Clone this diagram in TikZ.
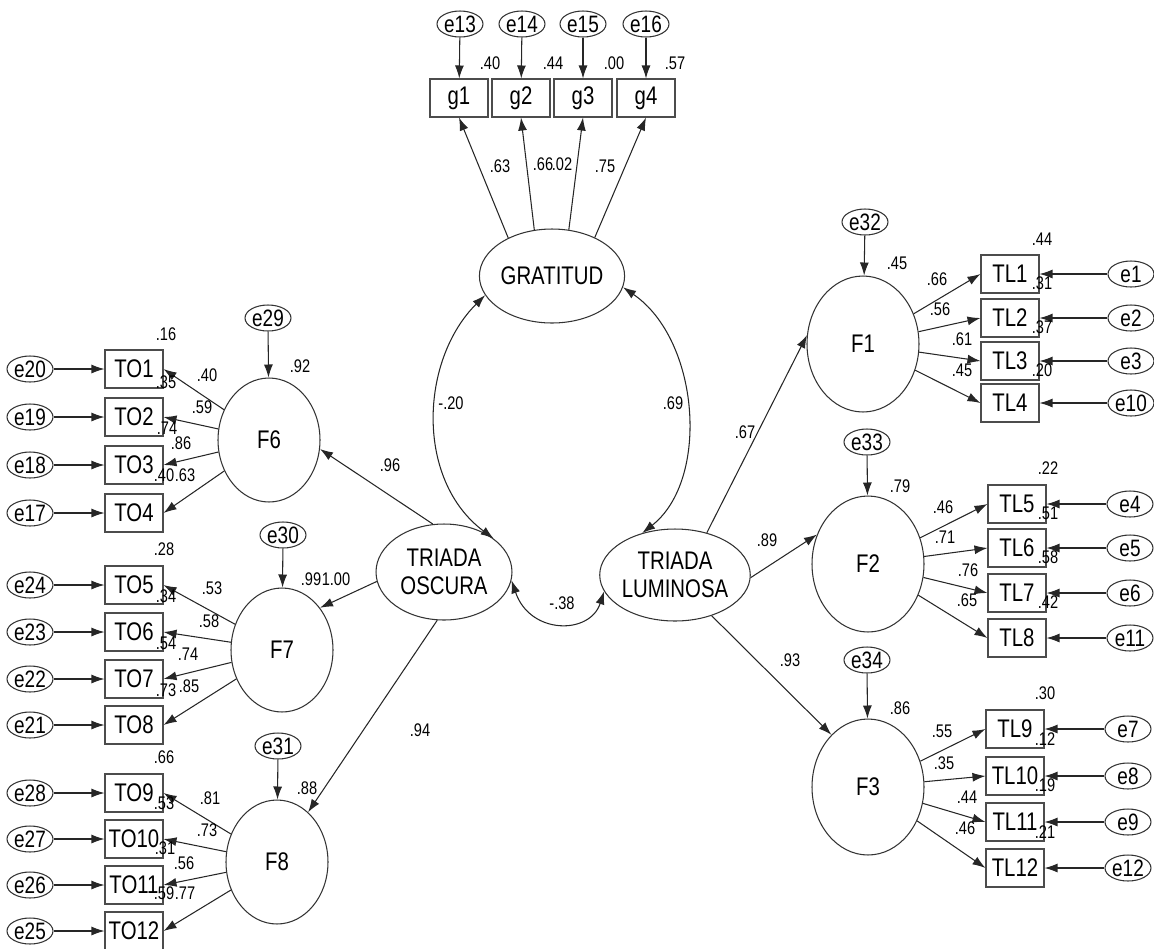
\documentclass[tikz,border=0pt]{standalone}
\usepackage{fontspec}
\newfontfamily\narrowfont[FakeStretch=0.8]{Liberation Sans}
\usepackage{tikz}
\usetikzlibrary{shapes, arrows.meta}

\newcommand{\semnode}{\narrowfont\fontsize{14.5}{16}\selectfont}
\newcommand{\semerr}{\narrowfont\fontsize{13.5}{15}\selectfont}
\newcommand{\semval}{\narrowfont\fontsize{10.4}{12}\selectfont}

\begin{document}
\begin{tikzpicture}[x=0.02cm, y=-0.02cm, >={Latex[length=2.6mm, width=1.8mm]}, line width=0.6pt]
\tikzstyle{sem_box}=[rectangle, draw=black!70, minimum width=1.16cm, minimum height=0.76cm,
	inner sep=0pt, font=\semnode]
\tikzstyle{sem_err}=[ellipse, draw=black!80, minimum width=0.92cm, minimum height=0.52cm,
	inner sep=0pt, font=\semerr]
\tikzstyle{sem_fac}=[ellipse, draw=black!80, minimum width=2.04cm, minimum height=2.48cm,
	inner sep=0pt, font=\semnode]
\tikzstyle{sem_fac_big}=[sem_fac, minimum width=2.24cm, minimum height=2.72cm]
\tikzstyle{sem_lat}=[ellipse, draw=black!80, minimum width=2.72cm, minimum height=1.88cm,
	inner sep=0pt, align=center, font=\semnode]
\tikzstyle{sem_val}=[inner sep=0pt, font=\semval]
\tikzstyle{sem_arr}=[->, draw=black!85]

\useasboundingbox (0,0) rectangle (1154,948);

% latent variables
\node at (552,276) [sem_lat] (grat) {GRATITUD};
\node at (444,572) [sem_lat, minimum height=1.92cm] (tos) {TRIADA\\OSCURA};
\node at (675,575) [sem_lat, minimum height=1.84cm] (tlu) {TRIADA\\LUMINOSA};

% gratitud indicators
\node at (459,98) [sem_box] (g1) {g1};
\node at (521,98) [sem_box] (g2) {g2};
\node at (583,98) [sem_box] (g3) {g3};
\node at (646,98) [sem_box] (g4) {g4};
\node at (460,24) [sem_err] (e13) {e13};
\node at (522,24) [sem_err] (e14) {e14};
\node at (583,24) [sem_err] (e15) {e15};
\node at (646,24) [sem_err] (e16) {e16};

% factors
\node at (269,440) [sem_fac] (F6) {F6};
\node at (282,650) [sem_fac] (F7) {F7};
\node at (277,862) [sem_fac] (F8) {F8};
\node at (863,344) [sem_fac_big] (F1) {F1};
\node at (868,564) [sem_fac_big] (F2) {F2};
\node at (868,787) [sem_fac_big] (F3) {F3};
\node at (268,318) [sem_err] (e29) {e29};
\node at (283,535) [sem_err] (e30) {e30};
\node at (278,746) [sem_err] (e31) {e31};
\node at (865,222) [sem_err] (e32) {e32};
\node at (867,442) [sem_err] (e33) {e33};
\node at (867,660) [sem_err] (e34) {e34};

% triada oscura items
\node at (134,369) [sem_box] (TO1) {TO1};
\node at (134,417) [sem_box] (TO2) {TO2};
\node at (134,465) [sem_box] (TO3) {TO3};
\node at (134,513) [sem_box] (TO4) {TO4};
\node at (134,585) [sem_box] (TO5) {TO5};
\node at (134,632) [sem_box] (TO6) {TO6};
\node at (134,679) [sem_box] (TO7) {TO7};
\node at (134,725) [sem_box] (TO8) {TO8};
\node at (134,793) [sem_box] (TO9) {TO9};
\node at (134,839) [sem_box] (TO10) {TO10};
\node at (134,885) [sem_box] (TO11) {TO11};
\node at (134,931) [sem_box] (TO12) {TO12};
\node at (30,369) [sem_err] (e20) {e20};
\node at (30,417) [sem_err] (e19) {e19};
\node at (30,465) [sem_err] (e18) {e18};
\node at (30,513) [sem_err] (e17) {e17};
\node at (30,585) [sem_err] (e24) {e24};
\node at (30,632) [sem_err] (e23) {e23};
\node at (30,679) [sem_err] (e22) {e22};
\node at (30,725) [sem_err] (e21) {e21};
\node at (30,793) [sem_err] (e28) {e28};
\node at (30,839) [sem_err] (e27) {e27};
\node at (30,885) [sem_err] (e26) {e26};
\node at (30,931) [sem_err] (e25) {e25};

% triada luminosa items
\node at (1010,274) [sem_box] (TL1) {TL1};
\node at (1010,318) [sem_box] (TL2) {TL2};
\node at (1010,361) [sem_box] (TL3) {TL3};
\node at (1010,403) [sem_box] (TL4) {TL4};
\node at (1017,504) [sem_box] (TL5) {TL5};
\node at (1017,548) [sem_box] (TL6) {TL6};
\node at (1017,593) [sem_box] (TL7) {TL7};
\node at (1017,638) [sem_box] (TL8) {TL8};
\node at (1015,729) [sem_box] (TL9) {TL9};
\node at (1015,776) [sem_box] (TL10) {TL10};
\node at (1015,822) [sem_box] (TL11) {TL11};
\node at (1015,868) [sem_box] (TL12) {TL12};
\node at (1131,274) [sem_err] (e1) {e1};
\node at (1131,318) [sem_err] (e2) {e2};
\node at (1131,361) [sem_err] (e3) {e3};
\node at (1131,403) [sem_err] (e10) {e10};
\node at (1130,504) [sem_err] (e4) {e4};
\node at (1130,548) [sem_err] (e5) {e5};
\node at (1130,593) [sem_err] (e6) {e6};
\node at (1130,638) [sem_err] (e11) {e11};
\node at (1128,729) [sem_err] (e7) {e7};
\node at (1128,776) [sem_err] (e8) {e8};
\node at (1128,822) [sem_err] (e9) {e9};
\node at (1128,868) [sem_err] (e12) {e12};

% structural paths
\draw[sem_arr] (tos.103) -- (F6.350);
\draw[sem_arr] (tos.188) -- (F7.48);
\draw[sem_arr] (tos.262) -- (F8.58);
\draw[sem_arr] (tlu.53) -- (F1.171);
\draw[sem_arr] (tlu.358) -- (F2.150);
\draw[sem_arr] (tlu.312) -- (F3.125);

% covariances
\draw[sem_arr, <->] (grat.196) .. controls (420,360) and (415,480) .. (tos.34);
\draw[sem_arr, <->] (grat.351) .. controls (700,340) and (710,480) .. (tlu.128);
\draw[sem_arr, <->] (tos.353) .. controls (530,635) and (590,635) .. (tlu.193);

% loadings
\draw[sem_arr] (grat.139) -- (g1.south);
\draw[sem_arr] (grat.111) -- (g2.south);
\draw[sem_arr] (grat.70) -- (g3.south);
\draw[sem_arr] (grat.42) -- (g4.south);
\draw[sem_arr] (F6) -- (TO1.east);
\draw[sem_arr] (F6) -- (TO2.east);
\draw[sem_arr] (F6) -- (TO3.east);
\draw[sem_arr] (F6) -- (TO4.east);
\draw[sem_arr] (F7) -- (TO5.east);
\draw[sem_arr] (F7) -- (TO6.east);
\draw[sem_arr] (F7) -- (TO7.east);
\draw[sem_arr] (F7) -- (TO8.east);
\draw[sem_arr] (F8) -- (TO9.east);
\draw[sem_arr] (F8) -- (TO10.east);
\draw[sem_arr] (F8) -- (TO11.east);
\draw[sem_arr] (F8) -- (TO12.east);
\draw[sem_arr] (F1) -- (TL1.west);
\draw[sem_arr] (F1) -- (TL2.west);
\draw[sem_arr] (F1) -- (TL3.west);
\draw[sem_arr] (F1) -- (TL4.west);
\draw[sem_arr] (F2) -- (TL5.west);
\draw[sem_arr] (F2) -- (TL6.west);
\draw[sem_arr] (F2) -- (TL7.west);
\draw[sem_arr] (F2) -- (TL8.west);
\draw[sem_arr] (F3) -- (TL9.west);
\draw[sem_arr] (F3) -- (TL10.west);
\draw[sem_arr] (F3) -- (TL11.west);
\draw[sem_arr] (F3) -- (TL12.west);

% errors
\draw[sem_arr] (e13) -- (g1);
\draw[sem_arr] (e14) -- (g2);
\draw[sem_arr] (e15) -- (g3);
\draw[sem_arr] (e16) -- (g4);
\draw[sem_arr] (e29) -- (F6);
\draw[sem_arr] (e30) -- (F7);
\draw[sem_arr] (e31) -- (F8);
\draw[sem_arr] (e32) -- (F1);
\draw[sem_arr] (e33) -- (F2);
\draw[sem_arr] (e34) -- (F3);
\draw[sem_arr] (e20) -- (TO1);
\draw[sem_arr] (e19) -- (TO2);
\draw[sem_arr] (e18) -- (TO3);
\draw[sem_arr] (e17) -- (TO4);
\draw[sem_arr] (e24) -- (TO5);
\draw[sem_arr] (e23) -- (TO6);
\draw[sem_arr] (e22) -- (TO7);
\draw[sem_arr] (e21) -- (TO8);
\draw[sem_arr] (e28) -- (TO9);
\draw[sem_arr] (e27) -- (TO10);
\draw[sem_arr] (e26) -- (TO11);
\draw[sem_arr] (e25) -- (TO12);
\draw[sem_arr] (e1) -- (TL1);
\draw[sem_arr] (e2) -- (TL2);
\draw[sem_arr] (e3) -- (TL3);
\draw[sem_arr] (e10) -- (TL4);
\draw[sem_arr] (e4) -- (TL5);
\draw[sem_arr] (e5) -- (TL6);
\draw[sem_arr] (e6) -- (TL7);
\draw[sem_arr] (e11) -- (TL8);
\draw[sem_arr] (e7) -- (TL9);
\draw[sem_arr] (e8) -- (TL10);
\draw[sem_arr] (e9) -- (TL11);
\draw[sem_arr] (e12) -- (TL12);

% estimates: gratitud
\node at (490,63) [sem_val] (r2g1) {.40};
\node at (553,63) [sem_val] (r2g2) {.44};
\node at (614,63) [sem_val] (r2g3) {.00};
\node at (675,63) [sem_val] (r2g4) {.57};
\node at (500,166) [sem_val] (lg1) {.63};
\node at (543,164) [sem_val] (lg2) {.66};
\node at (562,164) [sem_val] (lg3) {.02};
\node at (605,166) [sem_val] (lg4) {.75};

% estimates: structural and covariances
\node at (390,465) [sem_val] (lF6) {.96};
\node at (336,579) [sem_val] (lF7) {1.00};
\node at (420,730) [sem_val] (lF8) {.94};
\node at (745,432) [sem_val] (lF1) {.67};
\node at (767,540) [sem_val] (lF2) {.89};
\node at (790,660) [sem_val] (lF3) {.93};
\node at (451,403) [sem_val] (c_go) {-.20};
\node at (673,403) [sem_val] (c_gl) {.69};
\node at (562,603) [sem_val] (c_ol) {-.38};
\node at (300,366) [sem_val] (r2F6) {.92};
\node at (311,579) [sem_val] (r2F7) {.99};
\node at (307,788) [sem_val] (r2F8) {.88};
\node at (897,263) [sem_val] (r2F1) {.45};
\node at (900,486) [sem_val] (r2F2) {.79};
\node at (900,708) [sem_val] (r2F3) {.86};

% estimates: triada oscura
\node at (166,334) [sem_val] (r2TO1) {.16};
\node at (166,382) [sem_val] (r2TO2) {.35};
\node at (167,428) [sem_val] (r2TO3) {.74};
\node at (164,475) [sem_val] (r2TO4) {.40};
\node at (207,375) [sem_val] (lTO1) {.40};
\node at (202,407) [sem_val] (lTO2) {.59};
\node at (181,443) [sem_val] (lTO3) {.86};
\node at (185,475) [sem_val] (lTO4) {.63};
\node at (164,549) [sem_val] (r2TO5) {.28};
\node at (166,596) [sem_val] (r2TO6) {.34};
\node at (166,643) [sem_val] (r2TO7) {.54};
\node at (166,690) [sem_val] (r2TO8) {.73};
\node at (212,588) [sem_val] (lTO5) {.53};
\node at (209,621) [sem_val] (lTO6) {.58};
\node at (188,654) [sem_val] (lTO7) {.74};
\node at (189,686) [sem_val] (lTO8) {.85};
\node at (164,757) [sem_val] (r2TO9) {.66};
\node at (164,803) [sem_val] (r2TO10) {.53};
\node at (165,848) [sem_val] (r2TO11) {.31};
\node at (164,893) [sem_val] (r2TO12) {.59};
\node at (210,798) [sem_val] (lTO9) {.81};
\node at (207,830) [sem_val] (lTO10) {.73};
\node at (184,863) [sem_val] (lTO11) {.56};
\node at (185,893) [sem_val] (lTO12) {.77};

% estimates: triada luminosa
\node at (1042,239) [sem_val] (r2TL1) {.44};
\node at (1042,283) [sem_val] (r2TL2) {.31};
\node at (1042,327) [sem_val] (r2TL3) {.37};
\node at (1042,370) [sem_val] (r2TL4) {.20};
\node at (937,279) [sem_val] (lTL1) {.66};
\node at (940,309) [sem_val] (lTL2) {.56};
\node at (962,339) [sem_val] (lTL3) {.61};
\node at (962,370) [sem_val] (lTL4) {.45};
\node at (1048,468) [sem_val] (r2TL5) {.22};
\node at (1048,513) [sem_val] (r2TL6) {.51};
\node at (1048,557) [sem_val] (r2TL7) {.58};
\node at (1048,602) [sem_val] (r2TL8) {.42};
\node at (943,507) [sem_val] (lTL5) {.46};
\node at (945,537) [sem_val] (lTL6) {.71};
\node at (968,570) [sem_val] (lTL7) {.76};
\node at (967,600) [sem_val] (lTL8) {.65};
\node at (1045,693) [sem_val] (r2TL9) {.30};
\node at (1045,739) [sem_val] (r2TL10) {.12};
\node at (1045,785) [sem_val] (r2TL11) {.19};
\node at (1045,832) [sem_val] (r2TL12) {.21};
\node at (942,731) [sem_val] (lTL9) {.55};
\node at (944,763) [sem_val] (lTL10) {.35};
\node at (967,797) [sem_val] (lTL11) {.44};
\node at (965,828) [sem_val] (lTL12) {.46};

\end{tikzpicture}
\end{document}
